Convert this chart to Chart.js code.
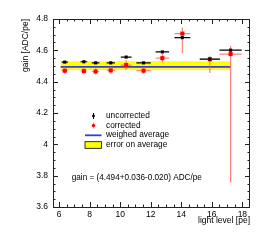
<!DOCTYPE html>
<html>
<head>
<meta charset="utf-8">
<script src="https://cdn.jsdelivr.net/npm/chart.js@4"></script>
<style>
  body { margin: 0; background: #fff; }
  #box { width: 269px; height: 240px; }
</style>
</head>
<body>
<div id="box"><canvas id="chart"></canvas></div>
<script>
// values
const lightLevel = [6.37, 7.62, 8.39, 9.38, 10.39, 11.53, 12.76, 14.07, 15.87, 17.23];
const lightErr = [0.2, 0.22, 0.25, 0.27, 0.35, 0.47, 0.44, 0.52, 0.66, 0.73];
const uncorrected = [4.525, 4.527, 4.52, 4.52, 4.557, 4.52, 4.59, 4.681, 4.544, 4.601];
const uncorrectedErr = [0.006, 0.006, 0.006, 0.006, 0.006, 0.006, 0.006, 0.006, 0.006, 0.006];
const corrected = [4.47, 4.468, 4.465, 4.472, 4.506, 4.47, 4.55, 4.707, 4.543, 4.576];
const correctedErrUp = [0.02, 0.02, 0.02, 0.02, 0.03, 0.02, 0.027, 0.038, 0.022, 0.053];
const correctedErrDown = [0.02, 0.02, 0.02, 0.02, 0.03, 0.02, 0.027, 0.125, 0.088, 0.82];

const average = 4.494;
const averageUp = 0.036;
const averageDown = 0.020;
const averageRange = [6.1, 17.23];

const xTicks = [6, 8, 10, 12, 14, 16, 18];
const yTicks = [3.6, 3.8, 4.0, 4.2, 4.4, 4.6, 4.8];

const FONT = "Liberation Sans, Arial, sans-serif";
const RED = "#ff0000";
const RED_ERR = "rgba(255,90,90,0.75)";

const pts = (xs, ys) => xs.map((x, i) => ({ x: x, y: ys[i] }));
const flat = (v) => averageRange.map((x) => ({ x: x, y: v }));

// error bars, drawn through the scales, after the band and before the markers
const errorBars = {
	id: "errorBars",
	afterDatasetDraw(chart, args) {
		if (args.index !== 2) return;
		const ctx = chart.ctx;
		const xs = chart.scales.x, ys = chart.scales.y;
		ctx.save();
		ctx.lineWidth = 1.2;
		ctx.strokeStyle = RED_ERR;
		for (let i = 0; i < lightLevel.length; i++) {
			const px = xs.getPixelForValue(lightLevel[i]);
			const py = ys.getPixelForValue(corrected[i]);
			ctx.beginPath();
			ctx.moveTo(xs.getPixelForValue(lightLevel[i] - lightErr[i]), py);
			ctx.lineTo(xs.getPixelForValue(lightLevel[i] + lightErr[i]), py);
			ctx.moveTo(px, ys.getPixelForValue(corrected[i] + correctedErrUp[i]));
			ctx.lineTo(px, ys.getPixelForValue(corrected[i] - correctedErrDown[i]));
			ctx.stroke();
		}
		ctx.strokeStyle = "#000";
		for (let i = 0; i < lightLevel.length; i++) {
			const px = xs.getPixelForValue(lightLevel[i]);
			const py = ys.getPixelForValue(uncorrected[i]);
			ctx.beginPath();
			ctx.moveTo(xs.getPixelForValue(lightLevel[i] - lightErr[i]), py);
			ctx.lineTo(xs.getPixelForValue(lightLevel[i] + lightErr[i]), py);
			ctx.moveTo(px, ys.getPixelForValue(uncorrected[i] + uncorrectedErr[i]));
			ctx.lineTo(px, ys.getPixelForValue(uncorrected[i] - uncorrectedErr[i]));
			ctx.stroke();
		}
		ctx.restore();
	},
};

// ROOT style frame with inner ticks, axis titles, legend and fit text
const frame = {
	id: "frame",
	afterDraw(chart) {
		const ctx = chart.ctx;
		const a = chart.chartArea;
		const xs = chart.scales.x, ys = chart.scales.y;
		ctx.save();
		ctx.strokeStyle = "#222";
		ctx.lineWidth = 1;
		ctx.strokeRect(a.left + 0.5, a.top + 0.5, a.right - a.left - 1, a.bottom - a.top);
		ctx.beginPath();
		for (let v = 6; v <= 18.001; v += 0.5) {
			const px = Math.round(xs.getPixelForValue(v)) + 0.5;
			const len = Math.abs(v % 2) < 0.01 ? 5 : 2.5;
			ctx.moveTo(px, a.bottom);
			ctx.lineTo(px, a.bottom - len);
			ctx.moveTo(px, a.top);
			ctx.lineTo(px, a.top + len);
		}
		for (let k = 0; k <= 24; k++) {
			const v = 3.6 + k * 0.05;
			const py = Math.round(ys.getPixelForValue(v)) + 0.5;
			const len = k % 4 === 0 ? 5 : 2.5;
			ctx.moveTo(a.left, py);
			ctx.lineTo(a.left + len, py);
			ctx.moveTo(a.right, py);
			ctx.lineTo(a.right - len, py);
		}
		ctx.stroke();

		ctx.fillStyle = "#000";
		ctx.font = "8.5px " + FONT;
		ctx.textBaseline = "middle";
		ctx.textAlign = "right";
		ctx.fillText("light level [pe]", a.right, 220.5);
		ctx.save();
		ctx.translate(26, a.top);
		ctx.rotate(-Math.PI / 2);
		ctx.fillText("gain [ADC/pe]", 0, 0);
		ctx.restore();

		// legend
		ctx.textAlign = "left";
		ctx.font = "8.3px " + FONT;
		const lx = 106;
		const rows = [116, 125.5, 134.8, 144.5];
		ctx.fillText("uncorrected", lx, rows[0]);
		ctx.fillText("corrected", lx, rows[1]);
		ctx.fillText("weighed average", lx, rows[2]);
		ctx.fillText("error on average", lx, rows[3]);
		ctx.strokeStyle = "#000";
		ctx.lineWidth = 1;
		ctx.beginPath();
		ctx.moveTo(93.5, rows[0] - 3);
		ctx.lineTo(93.5, rows[0] + 3);
		ctx.stroke();
		ctx.beginPath();
		ctx.arc(93.5, rows[0], 1.4, 0, Math.PI * 2);
		ctx.fill();
		ctx.strokeStyle = RED_ERR;
		ctx.beginPath();
		ctx.moveTo(93.5, rows[1] - 3);
		ctx.lineTo(93.5, rows[1] + 3);
		ctx.stroke();
		ctx.fillStyle = RED;
		ctx.beginPath();
		ctx.arc(93.5, rows[1], 1.7, 0, Math.PI * 2);
		ctx.fill();
		ctx.strokeStyle = "#3a3ae6";
		ctx.lineWidth = 1.8;
		ctx.beginPath();
		ctx.moveTo(85, rows[2] + 0.5);
		ctx.lineTo(101.5, rows[2] + 0.5);
		ctx.stroke();
		ctx.fillStyle = "#ffff00";
		ctx.fillRect(85, 141.7, 16.5, 6.6);
		ctx.strokeStyle = "#000";
		ctx.lineWidth = 0.8;
		ctx.strokeRect(85, 141.7, 16.5, 6.6);

		ctx.fillStyle = "#000";
		ctx.font = "8.2px " + FONT;
		ctx.fillText("gain = (" + average.toFixed(3) + "+" + averageUp.toFixed(3) + "-" + averageDown.toFixed(3) + ") ADC/pe", 71.7, 177.7);
		ctx.restore();
	},
};

new Chart(document.getElementById("chart"), {
	type: "scatter",
	data: {
		datasets: [
			{
				type: "line",
				data: flat(average + averageUp),
				borderWidth: 0,
				pointRadius: 0,
				fill: "+1",
				backgroundColor: "#ffff00",
				order: 5,
			},
			{
				type: "line",
				data: flat(average - averageDown),
				borderWidth: 0,
				pointRadius: 0,
				order: 5,
			},
			{
				type: "line",
				data: flat(average),
				borderColor: "#3a3ae6",
				borderWidth: 1.8,
				pointRadius: 0,
				order: 4,
			},
			{
				data: pts(lightLevel, corrected),
				pointStyle: "rect",
				pointRadius: 2.9,
				backgroundColor: RED,
				borderWidth: 0,
				order: 2,
			},
			{
				data: pts(lightLevel, uncorrected),
				pointStyle: "rect",
				pointRadius: 2.2,
				backgroundColor: "#000",
				borderWidth: 0,
				order: 1,
			},
		],
	},
	options: {
		responsive: true,
		maintainAspectRatio: false,
		animation: false,
		events: [],
		layout: { padding: { left: 0, top: 19, right: 19, bottom: 0 } },
		plugins: { legend: { display: false }, tooltip: { enabled: false } },
		scales: {
			x: {
				type: "linear",
				min: 5.6,
				max: 18.5,
				grid: { display: false, drawTicks: false },
				border: { display: false },
				afterFit: (s) => { s.height = 33; },
				afterBuildTicks: (s) => { s.ticks = xTicks.map((v) => ({ value: v })); },
				ticks: { padding: 3, color: "#000", font: { family: FONT, size: 8.5 }, maxRotation: 0 },
			},
			y: {
				type: "linear",
				min: 3.6,
				max: 4.8,
				grid: { display: false, drawTicks: false },
				border: { display: false },
				afterFit: (s) => { s.width = 53; },
				afterBuildTicks: (s) => { s.ticks = yTicks.map((v) => ({ value: v })); },
				ticks: {
					padding: 5,
					color: "#000",
					font: { family: FONT, size: 8.5 },
					callback: (v) => String(+v.toFixed(2)),
				},
			},
		},
	},
	plugins: [errorBars, frame],
});
</script>
</body>
</html>
